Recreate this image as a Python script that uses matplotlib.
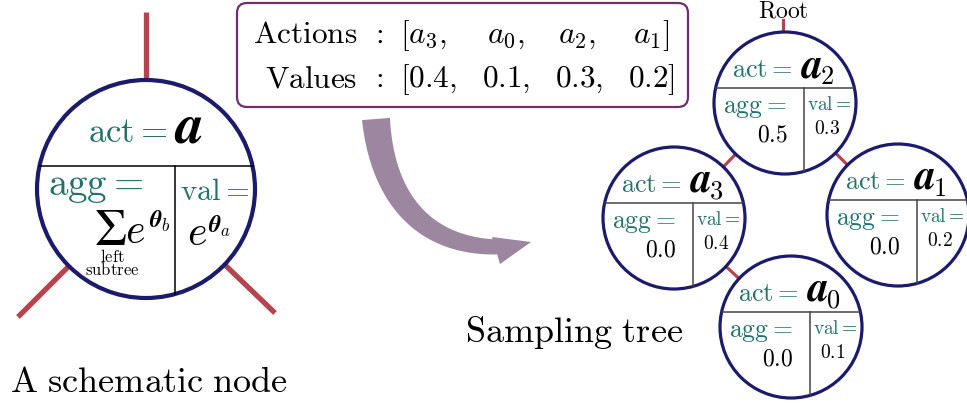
import numpy as np
import matplotlib
matplotlib.use("Agg")
import matplotlib.pyplot as plt
from matplotlib.patches import Circle, FancyBboxPatch, Polygon

plt.rcParams['mathtext.fontset'] = 'cm'
plt.rcParams['font.family'] = ['DejaVu Serif']

# ---------------- data ----------------
actions = ['a_3', 'a_0', 'a_2', 'a_1']
values = [0.4, 0.1, 0.3, 0.2]
tree_acts = ['a_2', 'a_3', 'a_1', 'a_0']
tree_aggs = [0.5, 0.0, 0.0, 0.0]
tree_vals = [0.3, 0.4, 0.2, 0.1]
tree_parent = [None, 0, 0, 1]

# ---------------- layout ----------------
tree_centers = [(785, 104), (674, 219), (898, 216), (791, 328)]
tree_r = 71
sch_center = (146, 190)
sch_r = 109
col_x_act = [400, 487, 558, 633]
col_x_val = [400, 482, 555, 628]

NAVY = '#1c1a6b'
RED = '#b5444f'
TEAL = '#24706a'
BOXC = '#6d2f6d'
ARROW = '#9c86a0'
BOLDIT = dict(family='STIXGeneral', weight='bold', style='italic')

fig = plt.figure(figsize=(9.67, 4.06), dpi=100)
ax = fig.add_axes([0, 0, 1, 1])
ax.set_xlim(0, 967)
ax.set_ylim(406, 0)
ax.axis('off')


def node_frame(cx, cy, r, lw_c, lw_d, dcol):
    ax.add_patch(Circle((cx, cy), r, facecolor='white', edgecolor=NAVY, lw=lw_c, zorder=3))
    hy = cy - 0.21 * r
    half = np.sqrt(r**2 - (0.21 * r)**2)
    ax.plot([cx - half, cx + half], [hy, hy], color=dcol, lw=lw_d, zorder=4)
    vx = cx + 0.27 * r
    bot = cy + np.sqrt(r**2 - (0.27 * r)**2)
    ax.plot([vx, vx], [hy, bot], color=dcol, lw=lw_d, zorder=4)


# ---------------- schematic node ----------------
scx, scy = sch_center
for (ex, ey) in [(146, 13), (18, 318), (275, 314)]:
    ax.plot([ex, scx], [ey, scy], color=RED, lw=3.8, zorder=2, solid_capstyle='butt')
node_frame(scx, scy, sch_r, 3.0, 1.1, 'black')
ax.text(167, 142, r'$\mathrm{act} =$', color=TEAL, fontsize=25, ha='right', va='baseline', zorder=5)
ax.text(175, 143, 'a', color='black', fontsize=40, ha='left', va='baseline', zorder=5, **BOLDIT)
ax.text(48, 195, r'$\mathrm{agg} =$', color=TEAL, fontsize=28, ha='left', va='baseline', zorder=5)
ax.text(180, 200, r'$\mathrm{val} =$', color=TEAL, fontsize=22, ha='left', va='baseline', zorder=5)
ax.text(110, 245, '\u03a3', color='black', fontsize=37, ha='center', va='baseline', zorder=5,
        family='STIXGeneral')
ax.text(125, 243, r'$e$', color='black', fontsize=30, ha='left', va='baseline', zorder=5)
ax.text(149, 227, '\u03b8', color='black', fontsize=17, ha='left', va='baseline', zorder=5, **BOLDIT)
ax.text(161, 231, r'$b$', color='black', fontsize=12, ha='left', va='baseline', zorder=5)
ax.text(112, 262, r'$\mathrm{left}$', color='black', fontsize=12, ha='center', va='baseline', zorder=5)
ax.text(112, 275, r'$\mathrm{subtree}$', color='black', fontsize=12, ha='center', va='baseline', zorder=5)
ax.text(187, 245, r'$e$', color='black', fontsize=30, ha='left', va='baseline', zorder=5)
ax.text(208, 232, '\u03b8', color='black', fontsize=17, ha='left', va='baseline', zorder=5, **BOLDIT)
ax.text(220, 236, r'$a$', color='black', fontsize=12, ha='left', va='baseline', zorder=5)
ax.text(10, 392, r'$\mathrm{A\ schematic\ node}$', color='black', fontsize=26, ha='left', va='baseline')

# ---------------- actions / values box ----------------
ax.add_patch(FancyBboxPatch((237, 4), 451, 104, boxstyle='round,pad=0,rounding_size=10',
                            facecolor='white', edgecolor=BOXC, lw=1.6, zorder=1))
ax.text(357, 43, r'$\mathrm{Actions}$', fontsize=22.5, ha='right', va='baseline')
ax.text(357, 87, r'$\mathrm{Values}$', fontsize=22.5, ha='right', va='baseline')
ax.text(377, 43, r'$:$', fontsize=22.5, ha='center', va='baseline')
ax.text(377, 87, r'$:$', fontsize=22.5, ha='center', va='baseline')
n = len(actions)
for i, (a, v) in enumerate(zip(actions, values)):
    pre = '[' if i == 0 else ''
    post = ']' if i == n - 1 else ','
    ax.text(col_x_act[i], 43, '$' + pre + a + post + '$', fontsize=22.5, ha='left', va='baseline')
    ax.text(col_x_val[i], 87, '$' + pre + f'{v:.1f}' + post + '$', fontsize=22.5, ha='left', va='baseline')

# ---------------- curved arrow ----------------
P = np.array([[376, 120], [382, 195], [420, 247], [497, 248]], dtype=float)
t = np.linspace(0, 1, 60)[:, None]
pts = (1 - t)**3 * P[0] + 3 * (1 - t)**2 * t * P[1] + 3 * (1 - t) * t**2 * P[2] + t**3 * P[3]
der = 3 * (1 - t)**2 * (P[1] - P[0]) + 6 * (1 - t) * t * (P[2] - P[1]) + 3 * t**2 * (P[3] - P[2])
der /= np.linalg.norm(der, axis=1)[:, None]
nrm = np.column_stack([-der[:, 1], der[:, 0]])
w = (28 - 13 * t[:, 0]) / 2
left = pts + nrm * w[:, None]
right = pts - nrm * w[:, None]
body = np.vstack([left, right[::-1]])
ax.add_patch(Polygon(body, closed=True, facecolor=ARROW, edgecolor='none', zorder=1))
ax.add_patch(Polygon([[492, 238], [531, 243], [500, 265]], closed=True, facecolor=ARROW,
                     edgecolor='none', zorder=1))

# ---------------- sampling tree ----------------
for i, p in enumerate(tree_parent):
    if p is not None:
        (x0, y0), (x1, y1) = tree_centers[p], tree_centers[i]
        ax.plot([x0, x1], [y0, y1], color=RED, lw=2.3, zorder=2)
rx, ry = tree_centers[0]
ax.plot([rx - 2, rx - 2], [21, ry], color=RED, lw=2.3, zorder=2)
ax.text(rx - 2, 18, r'$\mathrm{Root}$', fontsize=17, ha='center', va='baseline')

for (cx, cy), act, agg, val in zip(tree_centers, tree_acts, tree_aggs, tree_vals):
    node_frame(cx, cy, tree_r, 2.3, 1.1, '#444444')
    ax.text(cx + 8, cy - 27, r'$\mathrm{act} =$', color=TEAL, fontsize=19, ha='right', va='baseline', zorder=5)
    sub = act.split('_')[1]
    ax.text(cx + 17, cy - 27, 'a', color='black', fontsize=30, ha='left', va='baseline', zorder=5, **BOLDIT)
    ax.text(cx + 35, cy - 20, f'${sub}$', color='black', fontsize=19, ha='left', va='baseline', zorder=5)
    ax.text(cx - 62, cy + 9, r'$\mathrm{agg} =$', color=TEAL, fontsize=18.5, ha='left', va='baseline', zorder=5)
    ax.text(cx - 13, cy + 38, f'${agg:.1f}$', color='black', fontsize=17, ha='center', va='baseline', zorder=5)
    ax.text(cx + 22, cy + 6, r'$\mathrm{val} =$', color=TEAL, fontsize=14, ha='left', va='baseline', zorder=5)
    ax.text(cx + 42, cy + 30, f'${val:.1f}$', color='black', fontsize=14, ha='center', va='baseline', zorder=5)

ax.text(465, 342, r'$\mathrm{Sampling\ tree}$', fontsize=26, ha='left', va='baseline')

fig.savefig('out.png', dpi=100)
